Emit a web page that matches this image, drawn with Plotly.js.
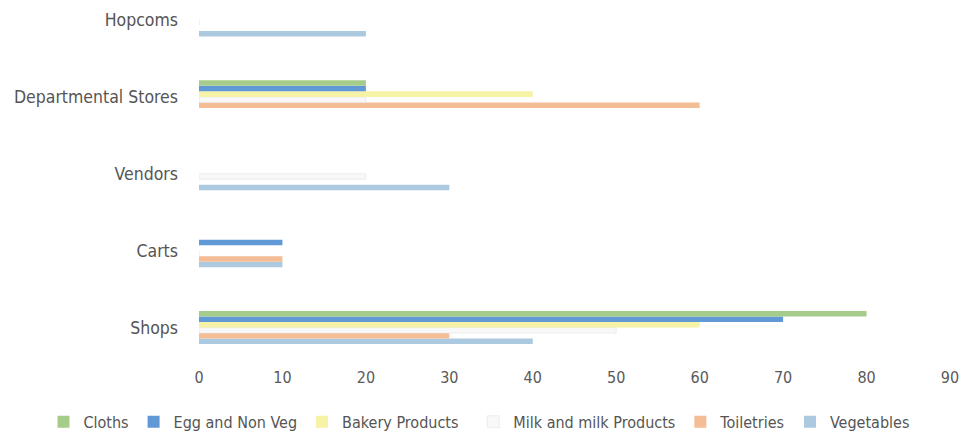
<!DOCTYPE html>
<html>
<head>
<meta charset="utf-8">
<script src="https://cdn.plot.ly/plotly-3.0.1.min.js"></script>
<style>
  html, body { margin: 0; padding: 0; background: #ffffff; }
  #chart { width: 966px; height: 434px; }
</style>
</head>
<body>
<div id="chart"></div>
<script>
// Outlets, listed bottom to top
const outlets = ['Shops', 'Carts', 'Vendors', 'Departmental Stores', 'Hopcoms'];

// Percent of respondents buying each product group at each outlet
const cloths     = [80, 0, 0, 20, 0];
const eggNonVeg  = [70, 10, 0, 20, 0];
const bakery     = [60, 0, 0, 40, 0];
const milk       = [50, 0, 20, 20, 0];
const toiletries = [30, 10, 0, 60, 0];
const vegetables = [40, 10, 30, 0, 20];

const xTicks = [0, 10, 20, 30, 40, 50, 60, 70, 80, 90];

// legend: the legend block (a single row split into two blocks) each entry goes to
const series = [
  { name: 'Cloths',                 values: cloths,     color: '#a6cc8c', line: 'rgba(0,0,0,0)', legend: 'legend' },
  { name: 'Egg and Non Veg',        values: eggNonVeg,  color: '#6199d6', line: 'rgba(0,0,0,0)', legend: 'legend' },
  { name: 'Bakery Products',        values: bakery,     color: '#f6f2a6', line: 'rgba(0,0,0,0)', legend: 'legend' },
  { name: 'Milk and milk Products', values: milk,       color: '#f8f8f8', line: '#e2e2e2',       legend: 'legend2' },
  { name: 'Toiletries',             values: toiletries, color: '#f5bd96', line: 'rgba(0,0,0,0)', legend: 'legend2' },
  { name: 'Vegetables',             values: vegetables, color: '#abcae0', line: 'rgba(0,0,0,0)', legend: 'legend2' }
];

// Horizontal grouped bars place the first trace lowest, so add them in reverse
// to keep Cloths on top of each group; the legends are reversed back.
const traces = series.slice().reverse().map(s => ({
  type: 'bar',
  orientation: 'h',
  name: s.name,
  legend: s.legend,
  y: outlets,
  x: s.values,
  marker: { color: s.color, line: { color: s.line, width: 0.6 } },
  hoverinfo: 'x+y+name'
}));

const font = "'DejaVu Sans Condensed', 'Liberation Sans', Arial, sans-serif";

function legendBlock(x) {
  return {
    orientation: 'h',
    traceorder: 'reversed',
    xref: 'container',
    yref: 'container',
    x: x,
    xanchor: 'left',
    y: 0.028,
    yanchor: 'middle',
    font: { family: font, size: 16, color: '#555555' },
    itemwidth: 30,
    bgcolor: 'rgba(0,0,0,0)'
  };
}

const layout = {
  width: 966,
  height: 434,
  margin: { l: 199, r: 16, t: 5, b: 67.5 },
  paper_bgcolor: '#ffffff',
  plot_bgcolor: '#ffffff',
  barmode: 'group',
  bargap: 0.57,
  bargroupgap: 0,
  showlegend: true,
  font: { family: font, size: 16, color: '#555555' },
  xaxis: {
    range: [0, 90],
    tickvals: xTicks,
    ticktext: xTicks.map(String),
    showgrid: false,
    zeroline: false,
    showline: false,
    ticks: '',
    tickfont: { family: font, size: 16, color: '#5a5a5a' },
    fixedrange: true
  },
  yaxis: {
    type: 'category',
    range: [-0.5, 4.195],
    showgrid: false,
    zeroline: false,
    showline: false,
    ticks: '',
    ticklabelstandoff: 20,
    tickfont: { family: font, size: 17.5, color: '#555555' },
    fixedrange: true
  },
  legend: legendBlock(0.045),
  legend2: legendBlock(0.49)
};

Plotly.newPlot('chart', traces, layout, { displayModeBar: false, staticPlot: true });
</script>
</body>
</html>
